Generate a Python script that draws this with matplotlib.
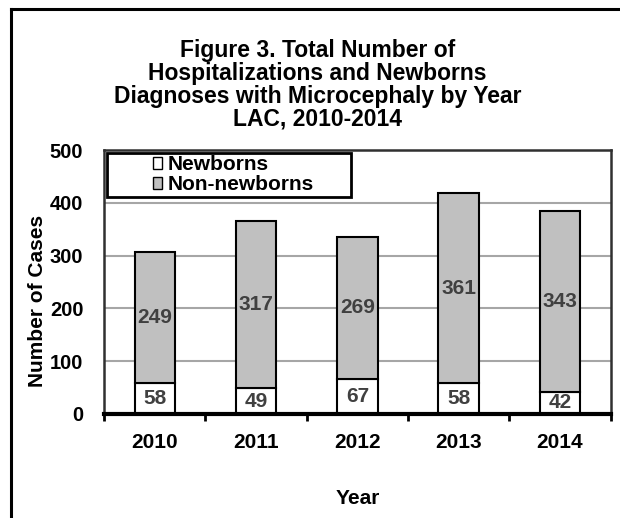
import matplotlib
matplotlib.use("Agg")
import matplotlib.pyplot as plt
from matplotlib.lines import Line2D
from matplotlib.patches import Patch, Rectangle
import numpy as np

plt.rcParams['font.family'] = ['Liberation Sans', 'DejaVu Sans']
plt.rcParams['font.weight'] = 'bold'
plt.rcParams['axes.labelweight'] = 'bold'

years = ['2010', '2011', '2012', '2013', '2014']
newborns = [58, 49, 67, 58, 42]
non_newborns = [249, 317, 269, 361, 343]
yticks = [0, 100, 200, 300, 400, 500]

TEXT_GRAY = '#404040'
BAR_GRAY = '#C0C0C0'

fig = plt.figure(figsize=(6.2, 5.18), dpi=100)
ax = fig.add_axes([0.168, 0.2008, 0.817, 0.5096])

x = np.arange(len(years))
w = 0.4
ax.bar(x, newborns, width=w, color='white', edgecolor='black', lw=1.5, zorder=3)
ax.bar(x, non_newborns, width=w, bottom=newborns, color=BAR_GRAY, edgecolor='black', lw=1.5, zorder=3)

for xi, nb, nn in zip(x, newborns, non_newborns):
    ax.text(xi, nb / 2, str(nb), ha='center', va='center', fontsize=15, color=TEXT_GRAY, zorder=4)
    ax.text(xi, nb + nn / 2, str(nn), ha='center', va='center', fontsize=15, color=TEXT_GRAY, zorder=4)

ax.set_xlim(-0.5, len(years) - 0.5)
ax.set_ylim(0, 500)
ax.set_yticks(yticks)
ax.set_yticklabels([str(v) for v in yticks], fontsize=14.5)
ax.tick_params(axis='y', length=0, pad=15)
ax.set_xticks(x)
ax.set_xticklabels(years, fontsize=15)
ax.tick_params(axis='x', length=0, pad=14)
ax.set_xticks(np.arange(len(years) + 1) - 0.5, minor=True)
ax.tick_params(axis='x', which='minor', length=5, width=2, direction='out', color='black')
ax.grid(axis='y', color='#A6A6A6', lw=1.5, zorder=0)

for s in ['top', 'right', 'left']:
    ax.spines[s].set_color('#303030')
    ax.spines[s].set_linewidth(1.8)
ax.spines['bottom'].set_color('black')
ax.spines['bottom'].set_linewidth(3)
ax.spines['bottom'].set_zorder(5)

ax.set_xlabel('Year', fontsize=15, fontweight='bold', labelpad=26)
ax.set_ylabel('Number of Cases', fontsize=15, fontweight='bold')
ax.yaxis.set_label_coords(-0.112, 0.43)

# legend: box drawn separately, entries centred inside it
box = Rectangle((0.006, 0.822), 0.481, 0.167, transform=ax.transAxes, facecolor='white',
                edgecolor='black', lw=2, zorder=6)
ax.add_patch(box)
handles = [Patch(facecolor='white', edgecolor='black', lw=1),
           Patch(facecolor=BAR_GRAY, edgecolor='black', lw=1)]
leg = ax.legend(handles, ['Newborns', 'Non-newborns'], loc='center', bbox_to_anchor=(0.255, 0.9055),
                prop={'weight': 'bold', 'size': 15}, frameon=False,
                handlelength=0.45, handleheight=0.45, handletextpad=0.25,
                borderpad=0, labelspacing=0.05, borderaxespad=0)
leg.set_zorder(7)

fig.text(0.512, 0.836, 'Figure 3. Total Number of\nHospitalizations and Newborns\n'
         'Diagnoses with Microcephaly by Year\nLAC, 2010-2014',
         ha='center', va='center', fontsize=16.5, linespacing=1.0)

# outer chart border (left and top only, rest is cropped)
fig.add_artist(Line2D([0.018, 0.018], [0.0, 0.983], color='black', lw=2.2, transform=fig.transFigure))
fig.add_artist(Line2D([0.018, 1.0], [0.983, 0.983], color='black', lw=2.2, transform=fig.transFigure))

fig.savefig('out.png', dpi=100, facecolor='white')
